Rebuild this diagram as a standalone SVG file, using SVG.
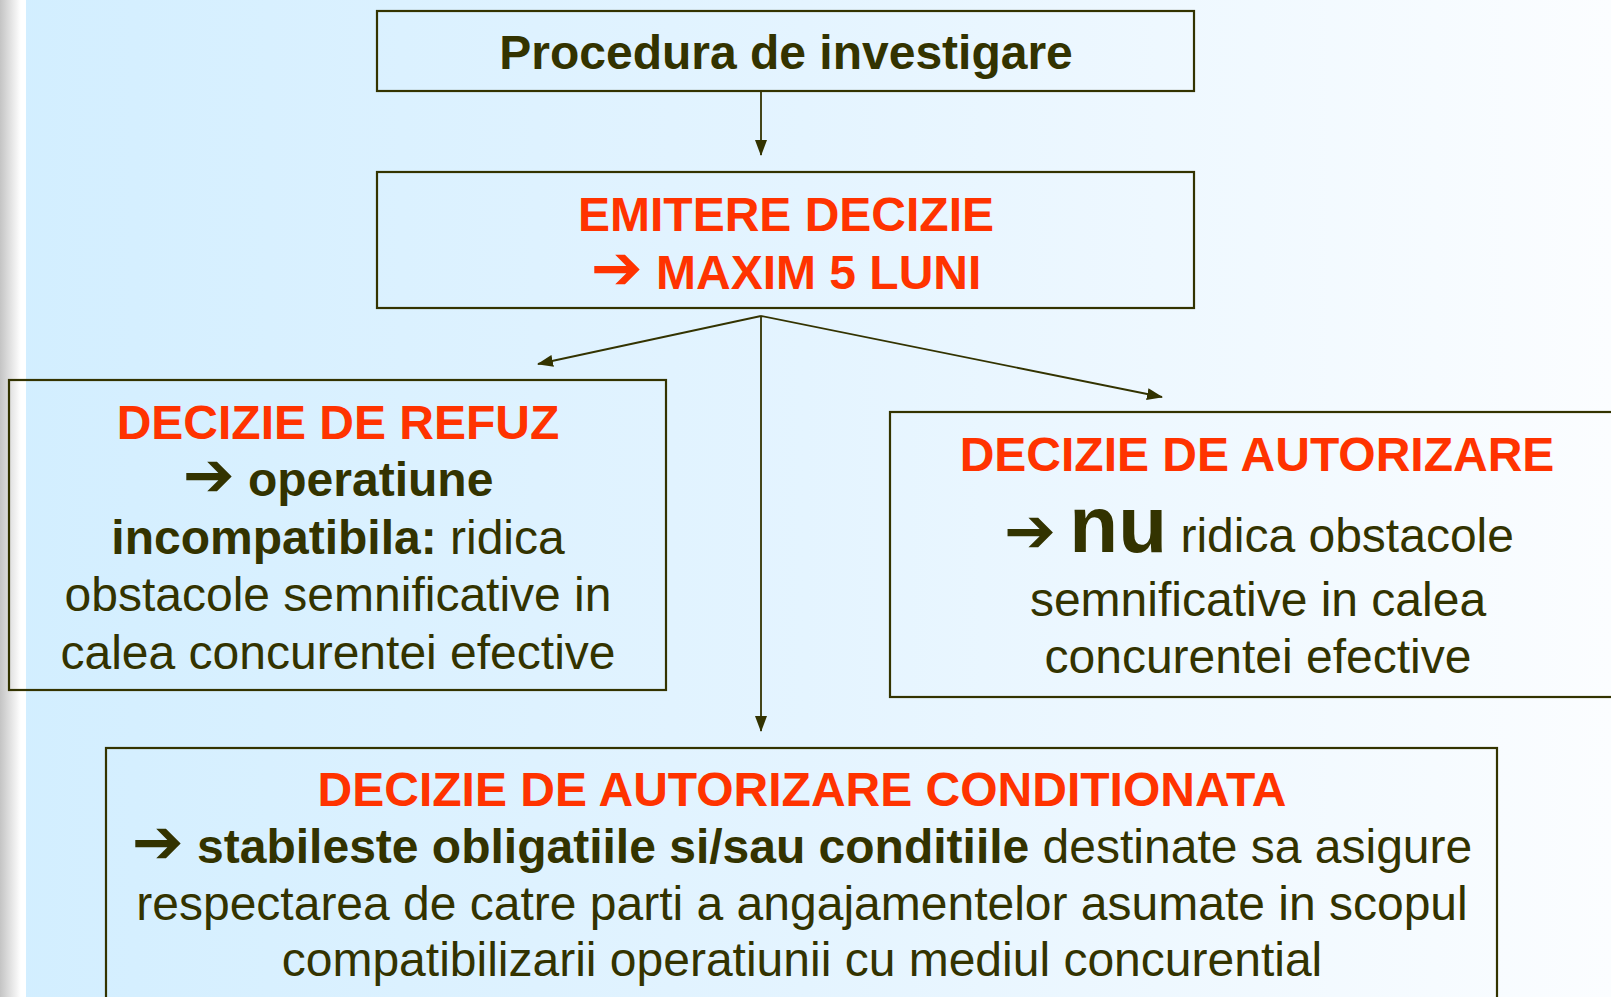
<svg xmlns="http://www.w3.org/2000/svg" width="1611" height="997" viewBox="0 0 1611 997">
<defs>
<linearGradient id="bg" x1="0" y1="0" x2="1" y2="0">
<stop offset="0" stop-color="#d2eeff"/>
<stop offset="0.5" stop-color="#e4f4ff"/>
<stop offset="1" stop-color="#fbfdff"/>
</linearGradient>
<linearGradient id="strip" x1="0" y1="0" x2="1" y2="0">
<stop offset="0" stop-color="#c4c4c4"/>
<stop offset="0.8" stop-color="#ffffff"/>
<stop offset="1" stop-color="#ffffff"/>
</linearGradient>
<marker id="ah" markerUnits="userSpaceOnUse" markerWidth="16" markerHeight="12" refX="15" refY="6" orient="auto">
<path d="M0,0 L16,6 L0,12 Z" fill="#333300"/>
</marker>
<style>
.box{fill:none;stroke:#333300;stroke-width:2.2}
.con{fill:none;stroke:#333300;stroke-width:1.8}
text{font-family:"Liberation Sans",Arial,sans-serif;font-size:48px;text-anchor:middle}
.red{fill:#ff3300;font-weight:bold}
.dk{fill:#333300}
.b{font-weight:bold}
.ar{font-family:"DejaVu Sans",sans-serif;font-weight:bold;font-size:62px}
</style>
</defs>
<rect x="0" y="0" width="1611" height="997" fill="url(#bg)"/>
<rect x="0" y="0" width="26" height="997" fill="url(#strip)"/>

<g id="connectors">
<line class="con" x1="761" y1="91" x2="761" y2="155" marker-end="url(#ah)"/>
<line class="con" x1="761" y1="316" x2="538" y2="364" marker-end="url(#ah)"/>
<line class="con" x1="761" y1="316" x2="1162" y2="397" marker-end="url(#ah)"/>
<line class="con" x1="761" y1="316" x2="761" y2="731" marker-end="url(#ah)"/>
</g>

<g id="node-procedura">
<rect class="box" x="377" y="11" width="817" height="80"/>
<text x="786" y="69" class="dk b">Procedura de investigare</text>
</g>

<g id="node-emitere">
<rect class="box" x="377" y="172" width="817" height="136"/>
<text x="786" y="231" class="red">EMITERE DECIZIE</text>
<text x="786" y="289" class="red"><tspan class="ar">➔</tspan> MAXIM 5 LUNI</text>
</g>

<g id="node-refuz">
<rect class="box" x="9" y="380" width="657" height="310"/>
<text x="338" y="439" class="red">DECIZIE DE REFUZ</text>
<text x="338" y="496" class="dk b"><tspan class="ar">➔</tspan> operatiune</text>
<text x="338" y="554" class="dk"><tspan class="b">incompatibila:</tspan> ridica</text>
<text x="338" y="611" class="dk">obstacole semnificative in</text>
<text x="338" y="669" class="dk">calea concurentei efective</text>
</g>

<g id="node-autorizare">
<rect class="box" x="890" y="412" width="740" height="285"/>
<text x="1257" y="471" class="red">DECIZIE DE AUTORIZARE</text>
<text x="1259" y="552" class="dk"><tspan class="ar">➔</tspan> <tspan class="b" font-size="80">nu</tspan> ridica obstacole</text>
<text x="1258" y="616" class="dk">semnificative in calea</text>
<text x="1258" y="673" class="dk">concurentei efective</text>
</g>

<g id="node-conditionata">
<rect class="box" x="106" y="748" width="1391" height="270"/>
<text x="802" y="806" class="red">DECIZIE DE AUTORIZARE CONDITIONATA</text>
<text x="802" y="863" class="dk"><tspan class="ar">➔</tspan> <tspan class="b">stabileste obligatiile si/sau conditiile</tspan> destinate sa asigure</text>
<text x="802" y="920" class="dk">respectarea de catre parti a angajamentelor asumate in scopul</text>
<text x="802" y="976" class="dk">compatibilizarii operatiunii cu mediul concurential</text>
</g>
</svg>
